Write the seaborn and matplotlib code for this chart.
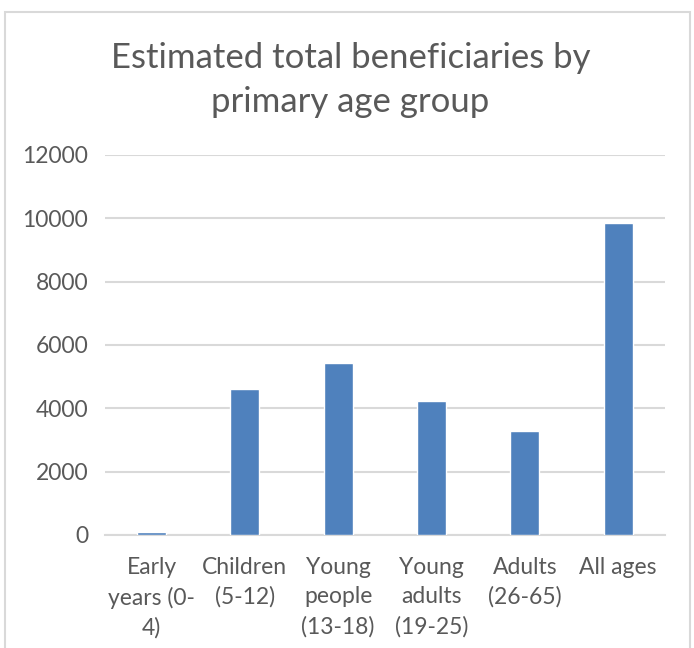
import pandas as pd
import matplotlib
matplotlib.use("Agg")
import matplotlib.pyplot as plt
import seaborn as sns
from matplotlib.patches import Rectangle

# values
age_groups = [
    "Early\nyears (0-\n4)",
    "Children\n(5-12)",
    "Young\npeople\n(13-18)",
    "Young\nadults\n(19-25)",
    "Adults\n(26-65)",
    "All ages",
]
beneficiaries = [90, 4600, 5420, 4220, 3270, 9860]
y_ticks = [0, 2000, 4000, 6000, 8000, 10000, 12000]

df = pd.DataFrame({"Age group": age_groups, "Beneficiaries": beneficiaries})

sns.set_style("white")
plt.rcParams["font.family"] = ["Lato", "DejaVu Sans"]

text_grey = "#595959"
grid_grey = "#d9d9d9"

fig = plt.figure(figsize=(6.94, 6.48), dpi=100)
ax = fig.add_axes([0.151, 0.1745, 0.807, 0.5864])

sns.barplot(x="Age group", y="Beneficiaries", data=df, color="#4F81BD",
            width=0.31, saturation=1, ax=ax, zorder=3)

ax.set_ylim(0, 12000)
ax.set_yticks(y_ticks)
ax.set_xlim(-0.5, len(age_groups) - 0.5)
ax.yaxis.grid(True, color=grid_grey, linewidth=1.5)
ax.set_axisbelow(True)
for side in ["top", "right", "left"]:
    ax.spines[side].set_visible(False)
ax.spines["bottom"].set_color(grid_grey)
ax.spines["bottom"].set_linewidth(1.5)
ax.spines["bottom"].set_zorder(2)
ax.tick_params(axis="both", length=0, labelsize=16.5, colors=text_grey)
ax.tick_params(axis="x", pad=16)
ax.tick_params(axis="y", pad=12)
for lbl in ax.get_xticklabels():
    lbl.set_linespacing(1.48)
ax.set_xlabel("")
ax.set_ylabel("")

fig.text(0.505, 0.877, "Estimated total beneficiaries by\nprimary age group",
         ha="center", va="center", fontsize=25, color=text_grey, linespacing=1.45)

# outer chart frame
fig.patches.append(Rectangle((5 / 694, -0.01), 685 / 694, 1 - 12 / 648 + 0.01,
                             transform=fig.transFigure, fill=False,
                             edgecolor=grid_grey, linewidth=1.5))

fig.savefig("out.png", dpi=100)
